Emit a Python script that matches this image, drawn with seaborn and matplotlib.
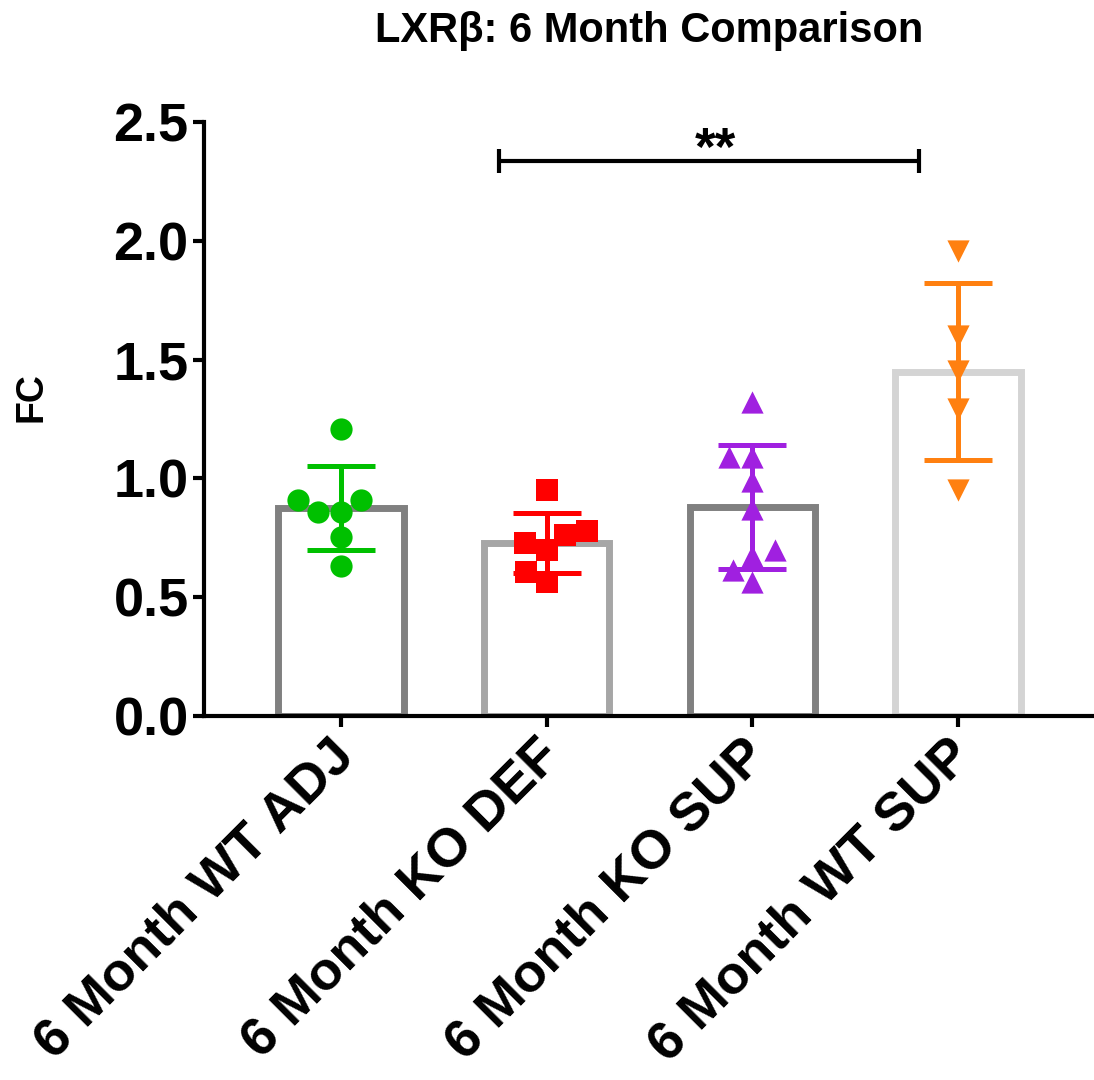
import numpy as np
import pandas as pd
import matplotlib
matplotlib.use("Agg")
import matplotlib.pyplot as plt
import matplotlib.transforms as mtransforms
import seaborn as sns

# ---- data ----
categories = ["6 Month WT ADJ", "6 Month KO DEF", "6 Month KO SUP", "6 Month WT SUP"]
wt_adj = [1.21, 0.91, 0.91, 0.86, 0.86, 0.755, 0.63]
ko_def = [0.95, 0.78, 0.76, 0.73, 0.70, 0.605, 0.565]
ko_sup = [1.32, 1.09, 1.09, 0.99, 0.87, 0.70, 0.675, 0.615, 0.565]
wt_sup = [1.955, 1.60, 1.45, 1.29, 0.95]
yticks = [0.0, 0.5, 1.0, 1.5, 2.0, 2.5]
title = "LXRβ: 6 Month Comparison"
ylabel = "FC"
sig_label = "**"

groups = [wt_adj, ko_def, ko_sup, wt_sup]
point_colors = ["#00c000", "#ff0000", "#a020e0", "#ff8010"]
edge_colors = ["#808080", "#a6a6a6", "#808080", "#d4d4d4"]
markers = ["o", "s", "^", "v"]

df = pd.DataFrame({
    "group": np.concatenate([[c] * len(g) for c, g in zip(categories, groups)]),
    "FC": np.concatenate(groups),
})

sns.set_style("ticks")
plt.rcParams["font.family"] = ["Liberation Sans", "DejaVu Sans"]
plt.rcParams["font.weight"] = "bold"
plt.rcParams["text.color"] = "black"
plt.rcParams["xtick.color"] = "black"
plt.rcParams["ytick.color"] = "black"
plt.rcParams["axes.labelcolor"] = "black"

fig = plt.figure(figsize=(10.94, 10.8), dpi=100)
ax = fig.add_axes([204 / 1094, 1 - 716 / 1080, 1 - 204 / 1094, (716 - 122) / 1080])

# bars (mean)
sns.barplot(data=df, x="group", y="FC", hue="group", order=categories, hue_order=categories,
            palette=edge_colors, errorbar=None, width=0.61, fill=False, linewidth=5,
            legend=False, ax=ax)
for p in ax.patches:
    p.set_joinstyle("miter")

# points
for cat, col, mk in zip(categories, point_colors, markers):
    sns.swarmplot(data=df[df["group"] == cat], x="group", y="FC", order=categories,
                  color=col, marker=mk, size=16, linewidth=0, ax=ax, zorder=3)

# error bars (SD)
sns.pointplot(data=df, x="group", y="FC", hue="group", order=categories, hue_order=categories,
              palette=point_colors, errorbar="sd", capsize=0.33, linestyle="none", marker="",
              err_kws={"linewidth": 3.6}, legend=False, ax=ax)
for ln in ax.lines:
    ln.set_zorder(4)
    ln.set_solid_capstyle("butt")

# significance bracket
bx0, bx1, by, bh = 0.77, 2.81, 2.336, 0.05
ax.plot([bx0, bx1], [by, by], color="black", lw=3, solid_capstyle="butt", clip_on=False)
ax.plot([bx0, bx0], [by - bh, by + bh], color="black", lw=3, solid_capstyle="butt", clip_on=False)
ax.plot([bx1, bx1], [by - bh, by + bh], color="black", lw=3, solid_capstyle="butt", clip_on=False)
ax.text(1.82, 2.319, sig_label, ha="center", va="baseline", fontsize=38, fontweight="bold",
        color="black", clip_on=False)

ax.set_xlim(-0.665, 3.66)
ax.set_ylim(0, 2.5)
ax.set_yticks(yticks)
ax.set_yticklabels([f"{v:.1f}" for v in yticks], fontsize=39, fontweight="bold", color="black")
ax.set_xticks(range(len(categories)))
ax.set_xticklabels(categories, fontsize=39, fontweight="bold", rotation=45, color="black",
                   ha="right", va="center", rotation_mode="anchor")
ax.set_xlabel("")
ax.set_ylabel("")
sns.despine(ax=ax)
for s in ["left", "bottom"]:
    ax.spines[s].set_linewidth(3)
    ax.spines[s].set_color("black")
ax.tick_params(axis="both", width=3, length=8, color="black", pad=3)
ax.tick_params(axis="x", pad=15)
offset = mtransforms.ScaledTranslation(6 / 100, 0, fig.dpi_scale_trans)
for lab in ax.get_xticklabels():
    lab.set_transform(lab.get_transform() + offset)

fig.text(0.593, 1 - 31 / 1080, title, ha="center", va="center", fontsize=30, fontweight="bold",
         color="black")
fig.text(31 / 1094, 1 - 397 / 1080, ylabel, ha="center", va="center", rotation=90,
         fontsize=27, fontweight="bold", color="black")

fig.savefig("out.png", dpi=100, facecolor="white")
